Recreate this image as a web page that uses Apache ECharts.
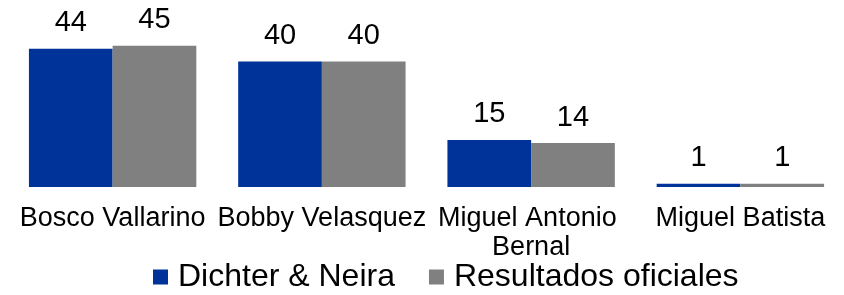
<!DOCTYPE html>
<html>
<head>
<meta charset="utf-8">
<script src="https://cdn.jsdelivr.net/npm/echarts@6/dist/echarts.min.js"></script>
<style>
  html, body { margin: 0; padding: 0; background: #fff; }
  #chart { width: 844px; height: 295px; }
</style>
</head>
<body>
<div id="chart"></div>
<script>
const candidates = ["Bosco Vallarino", "Bobby Velasquez", "Miguel Antonio Bernal", "Miguel Batista"];
const dichterNeira = [44, 40, 15, 1];
const oficiales = [45, 40, 14, 1];

const font = "Liberation Sans, Arial, sans-serif";

let myChart = echarts.init(document.getElementById("chart"));
let option = {
  animation: false,
  textStyle: { fontFamily: font, color: "#000" },
  grid: {
    left: 8,
    right: -1,
    top: 30,
    bottom: 108,
    outerBoundsMode: "none",
    containLabel: false,
  },
  legend: {
    data: ["Dichter & Neira", "Resultados oficiales"],
    left: 148,
    bottom: -3,
    icon: "rect",
    itemWidth: 15,
    itemHeight: 15,
    itemGap: 34,
    textStyle: { fontSize: 32, fontFamily: font, color: "#000", padding: [0, 0, 0, 5] },
  },
  xAxis: {
    type: "category",
    data: candidates,
    axisLine: { show: false },
    axisTick: { show: false },
    axisLabel: {
      interval: 0,
      margin: 17,
      fontSize: 27,
      fontFamily: font,
      color: "#000",
      width: 230,
      overflow: "break",
      lineHeight: 29,
    },
  },
  yAxis: {
    type: "value",
    min: 0,
    max: 50,
    show: false,
    splitLine: { show: false },
  },
  series: [
    {
      name: "Dichter & Neira",
      type: "bar",
      data: dichterNeira,
      barGap: "0%",
      barCategoryGap: "20%",
      itemStyle: { color: "#003399" },
      label: { show: true, position: "top", distance: 11, fontSize: 29, fontFamily: font, color: "#000" },
    },
    {
      name: "Resultados oficiales",
      type: "bar",
      data: oficiales,
      barGap: "0%",
      barCategoryGap: "20%",
      itemStyle: { color: "#808080" },
      label: { show: true, position: "top", distance: 11, fontSize: 29, fontFamily: font, color: "#000" },
    },
  ],
};
myChart.setOption(option);
</script>
</body>
</html>
